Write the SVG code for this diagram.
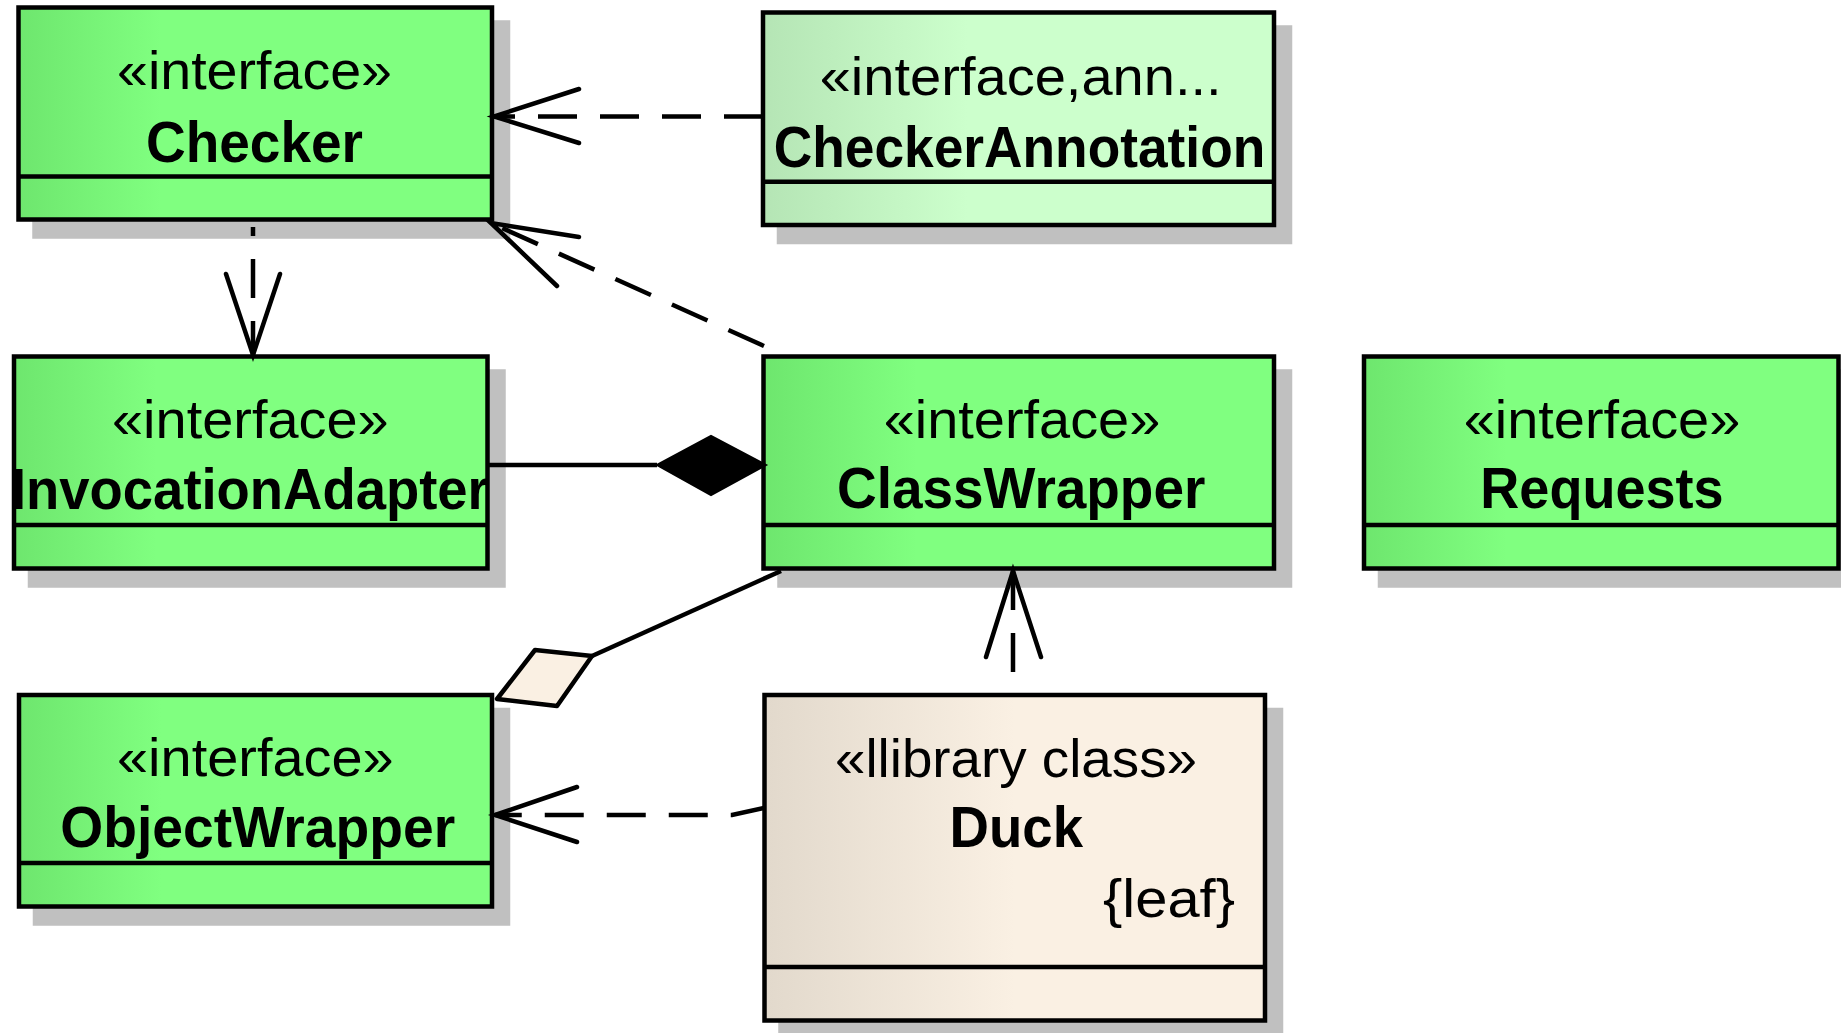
<svg xmlns="http://www.w3.org/2000/svg" width="1841" height="1033" viewBox="0 0 1841 1033">
<defs>
<linearGradient id="gGreen" x1="0" y1="0" x2="1" y2="0">
<stop offset="0" stop-color="#6EE66E"/><stop offset="0.3" stop-color="#80FF80"/><stop offset="1" stop-color="#80FF80"/>
</linearGradient>
<linearGradient id="gLight" x1="0" y1="0" x2="1" y2="0">
<stop offset="0" stop-color="#B5E5B5"/><stop offset="0.4" stop-color="#CCFFCC"/><stop offset="1" stop-color="#CCFFCC"/>
</linearGradient>
<linearGradient id="gCream" x1="0" y1="0" x2="1" y2="0">
<stop offset="0" stop-color="#E2D9CC"/><stop offset="0.5" stop-color="#FAF0E3"/><stop offset="1" stop-color="#FAF0E3"/>
</linearGradient>
</defs>
<style>
.shadow{fill:#C0C0C0}
.box{stroke:#000;stroke-width:4.5}
.div{stroke:#000;stroke-width:4.5}
.st{font-family:"Liberation Sans",Arial,sans-serif;font-size:53px;fill:#000}
.nm{font-family:"Liberation Sans",Arial,sans-serif;font-size:58px;font-weight:bold;fill:#000}
.ln{fill:none;stroke:#000;stroke-width:4.5}
.dash{stroke-dasharray:39 23}
.ah{fill:none;stroke:#000;stroke-width:4.5;stroke-linecap:round;stroke-linejoin:miter}
</style>
<rect width="1841" height="1033" fill="#FFFFFF"/>

<g id="Checker">
<rect class="shadow" x="32.25" y="20.25" width="478" height="218.5"/>
<rect class="box" fill="url(#gGreen)" x="18.5" y="7.5" width="473.5" height="212"/>
<line class="div" x1="18.5" y1="176.5" x2="492" y2="176.5"/>
<text class="st" x="117" y="88.5" textLength="275" lengthAdjust="spacingAndGlyphs">«interface»</text>
<text class="nm" x="146" y="161.5" textLength="217" lengthAdjust="spacingAndGlyphs">Checker</text>
</g>

<g id="CheckerAnnotation">
<rect class="shadow" x="776.75" y="25.25" width="515.5" height="219"/>
<rect class="box" fill="url(#gLight)" x="763" y="12.5" width="511" height="212.5"/>
<line class="div" x1="763" y1="181.7" x2="1274" y2="181.7"/>
<text class="st" x="819.7" y="95" textLength="402" lengthAdjust="spacingAndGlyphs">«interface,ann...</text>
<text class="nm" x="773.7" y="166.5" textLength="491.6" lengthAdjust="spacingAndGlyphs">CheckerAnnotation</text>
</g>

<g id="InvocationAdapter">
<rect class="shadow" x="27.75" y="369.25" width="478" height="218.5"/>
<rect class="box" fill="url(#gGreen)" x="14" y="356.5" width="473.5" height="212"/>
<line class="div" x1="14" y1="525" x2="487.5" y2="525"/>
<text class="st" x="112" y="438.3" textLength="276.7" lengthAdjust="spacingAndGlyphs">«interface»</text>
<text class="nm" x="11" y="509.3" textLength="477.7" lengthAdjust="spacingAndGlyphs">InvocationAdapter</text>
</g>

<g id="ClassWrapper">
<rect class="shadow" x="777.25" y="369.25" width="515" height="218.5"/>
<rect class="box" fill="url(#gGreen)" x="763.5" y="356.5" width="510.5" height="212"/>
<line class="div" x1="763.5" y1="525" x2="1274" y2="525"/>
<text class="st" x="883.7" y="438.3" textLength="276.6" lengthAdjust="spacingAndGlyphs">«interface»</text>
<text class="nm" x="837" y="508.3" textLength="368.3" lengthAdjust="spacingAndGlyphs">ClassWrapper</text>
</g>

<g id="Requests">
<rect class="shadow" x="1377.75" y="369.25" width="479" height="218.5"/>
<rect class="box" fill="url(#gGreen)" x="1364" y="356.5" width="474.5" height="212"/>
<line class="div" x1="1364" y1="525" x2="1838.5" y2="525"/>
<text class="st" x="1463.7" y="438.3" textLength="276.6" lengthAdjust="spacingAndGlyphs">«interface»</text>
<text class="nm" x="1480.3" y="508.3" textLength="243.3" lengthAdjust="spacingAndGlyphs">Requests</text>
</g>

<g id="ObjectWrapper">
<rect class="shadow" x="32.75" y="707.75" width="477.5" height="218"/>
<rect class="box" fill="url(#gGreen)" x="19" y="695" width="473" height="211.5"/>
<line class="div" x1="19" y1="863" x2="492" y2="863"/>
<text class="st" x="117" y="776" textLength="276.7" lengthAdjust="spacingAndGlyphs">«interface»</text>
<text class="nm" x="60.3" y="846.7" textLength="395" lengthAdjust="spacingAndGlyphs">ObjectWrapper</text>
</g>

<g id="Duck">
<rect class="shadow" x="778.25" y="707.75" width="505" height="332"/>
<rect class="box" fill="url(#gCream)" x="764.5" y="695" width="500.5" height="325.5"/>
<line class="div" x1="764.5" y1="967" x2="1265" y2="967"/>
<text class="st" x="835" y="776.7" textLength="362" lengthAdjust="spacingAndGlyphs">«llibrary class»</text>
<text class="nm" x="949.5" y="846.7" textLength="133.5" lengthAdjust="spacingAndGlyphs">Duck</text>
<text class="st" x="1103" y="916.7" textLength="132" lengthAdjust="spacingAndGlyphs">{leaf}</text>
</g>

<g id="connectors">
<path class="ln dash" d="M763,116.5 L494,116.5"/>
<path class="ah" d="M579,89 L494,116.5 L579,143"/>
<path class="ln dash" d="M764,346 L491,223"/>
<path class="ah" d="M557,286 L491,223 L579,237"/>
<path class="ln dash" style="stroke-dashoffset:30" d="M253,227 L253,355"/>
<path class="ah" d="M226,274 L253,355 L280,274"/>
<path class="ln" d="M487.5,465 L657,465"/>
<path d="M657,465 L711,436 L766,465 L711,495 Z" fill="#000" stroke="#000" stroke-width="2"/>
<path class="ln" d="M781,571 L592,656"/>
<path d="M592,656 L535,650 L497,699 L557,706 Z" fill="#FAF0E3" stroke="#000" stroke-width="4.5" stroke-linejoin="round"/>
<path class="ln dash" style="stroke-dashoffset:5" d="M764,808 L732,815 L495,815"/>
<path class="ah" d="M577,787 L495,815 L577,842"/>
<path class="ln dash" style="stroke-dashoffset:39" d="M1013,695 L1013,571"/>
<path class="ah" d="M986,657 L1013,571 L1041,657"/>
</g>
</svg>
